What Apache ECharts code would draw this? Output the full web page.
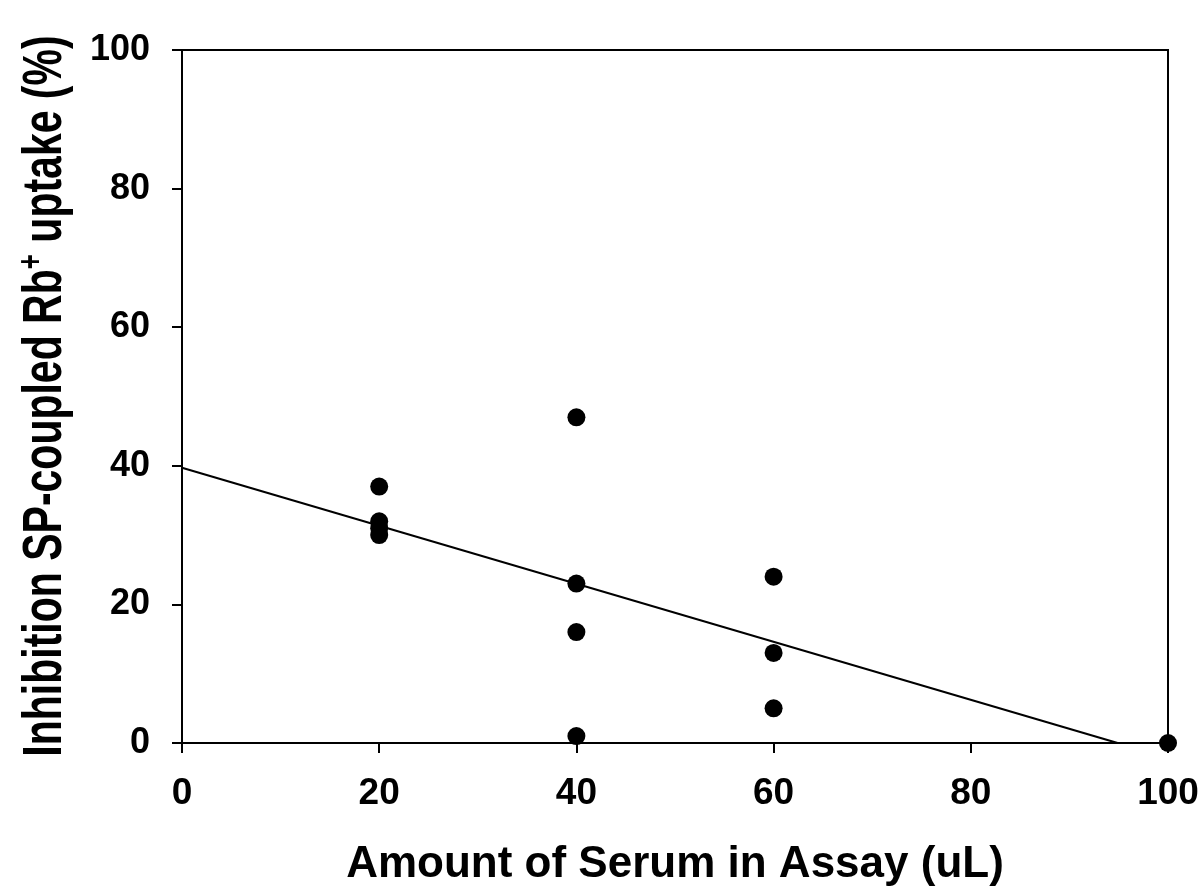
<!DOCTYPE html>
<html><head><meta charset="utf-8">
<script src="https://cdn.jsdelivr.net/npm/echarts@6/dist/echarts.min.js"></script>
<style>html,body{margin:0;padding:0;background:#fff}#c{width:1202px;height:892px}</style>
</head><body><div id="c"></div>
<script>
const serumX = [20, 20, 20, 20, 40, 40, 40, 40, 60, 60, 60, 100];
const inhibitionY = [37, 32, 31, 30, 47, 23, 16, 1, 24, 13, 5, 0];
const xTicks = [0, 20, 40, 60, 80, 100];
const yTicks = [0, 20, 40, 60, 80, 100];
const xTitle = 'Amount of Serum in Assay (uL)';
const yTitleParts = ['Inhibition SP-coupled Rb', '+', ' uptake (%)'];

// least-squares fit of the data (the reference trend line)
const n = serumX.length;
const mx = serumX.reduce((a, b) => a + b, 0) / n;
const my = inhibitionY.reduce((a, b) => a + b, 0) / n;
let sxy = 0, sxx = 0;
for (let i = 0; i < n; i++) { sxy += (serumX[i] - mx) * (inhibitionY[i] - my); sxx += (serumX[i] - mx) ** 2; }
const slope = sxy / sxx, intercept = my - slope * mx;
const xZero = -intercept / slope;
const fitLine = [[0, intercept], [xZero, 0]];

const font = '"Liberation Sans", Arial, sans-serif';
const chart = echarts.init(document.getElementById('c'));
chart.setOption({
  backgroundColor: '#fff',
  animation: false,
  grid: { left: 182, right: 34, top: 50, bottom: 149, show: true, borderColor: '#000', borderWidth: 2, backgroundColor: 'transparent' },
  xAxis: {
    type: 'value', min: 0, max: 100, interval: 20,
    name: xTitle, nameLocation: 'middle', nameGap: 100,
    nameTextStyle: { fontFamily: font, fontWeight: 'bold', fontSize: 44, color: '#000' },
    axisLine: { show: true, lineStyle: { color: '#000', width: 2 } },
    axisTick: { show: true, inside: false, length: 10, lineStyle: { color: '#000', width: 2 } },
    axisLabel: { margin: 32, fontFamily: font, fontWeight: 'bold', fontSize: 37, color: '#000',
      formatter: v => xTicks.includes(v) ? String(v) : '' },
    splitLine: { show: false }
  },
  yAxis: {
    type: 'value', min: 0, max: 100, interval: 20,
    axisLine: { show: true, lineStyle: { color: '#000', width: 2 } },
    axisTick: { show: true, inside: false, length: 10, lineStyle: { color: '#000', width: 2 } },
    axisLabel: { margin: 32, fontFamily: font, fontWeight: 'bold', fontSize: 36, color: '#000',
      formatter: v => yTicks.includes(v) ? String(v) : '' },
    splitLine: { show: false }
  },
  graphic: [{
    type: 'text', x: 46, y: 396, rotation: Math.PI / 2, scaleY: 1.35,
    style: {
      text: '{m|' + yTitleParts[0] + '}{s|' + yTitleParts[1] + '}{m|' + yTitleParts[2] + '}',
      align: 'center', verticalAlign: 'middle',
      rich: {
        m: { fontFamily: font, fontWeight: 'bold', fontSize: 41, fill: '#000' },
        s: { fontFamily: font, fontWeight: 'bold', fontSize: 26, fill: '#000', verticalAlign: 'top', padding: [0, 0, 20, 0] }
      }
    }
  }],
  series: [
    { type: 'line', data: fitLine, symbol: 'none', lineStyle: { color: '#000', width: 2 }, z: 2 },
    { type: 'scatter', data: serumX.map((x, i) => [x, inhibitionY[i]]), symbol: 'circle', symbolSize: 18,
      itemStyle: { color: '#000', opacity: 1 }, z: 3, clip: false }
  ]
});
</script></body></html>
